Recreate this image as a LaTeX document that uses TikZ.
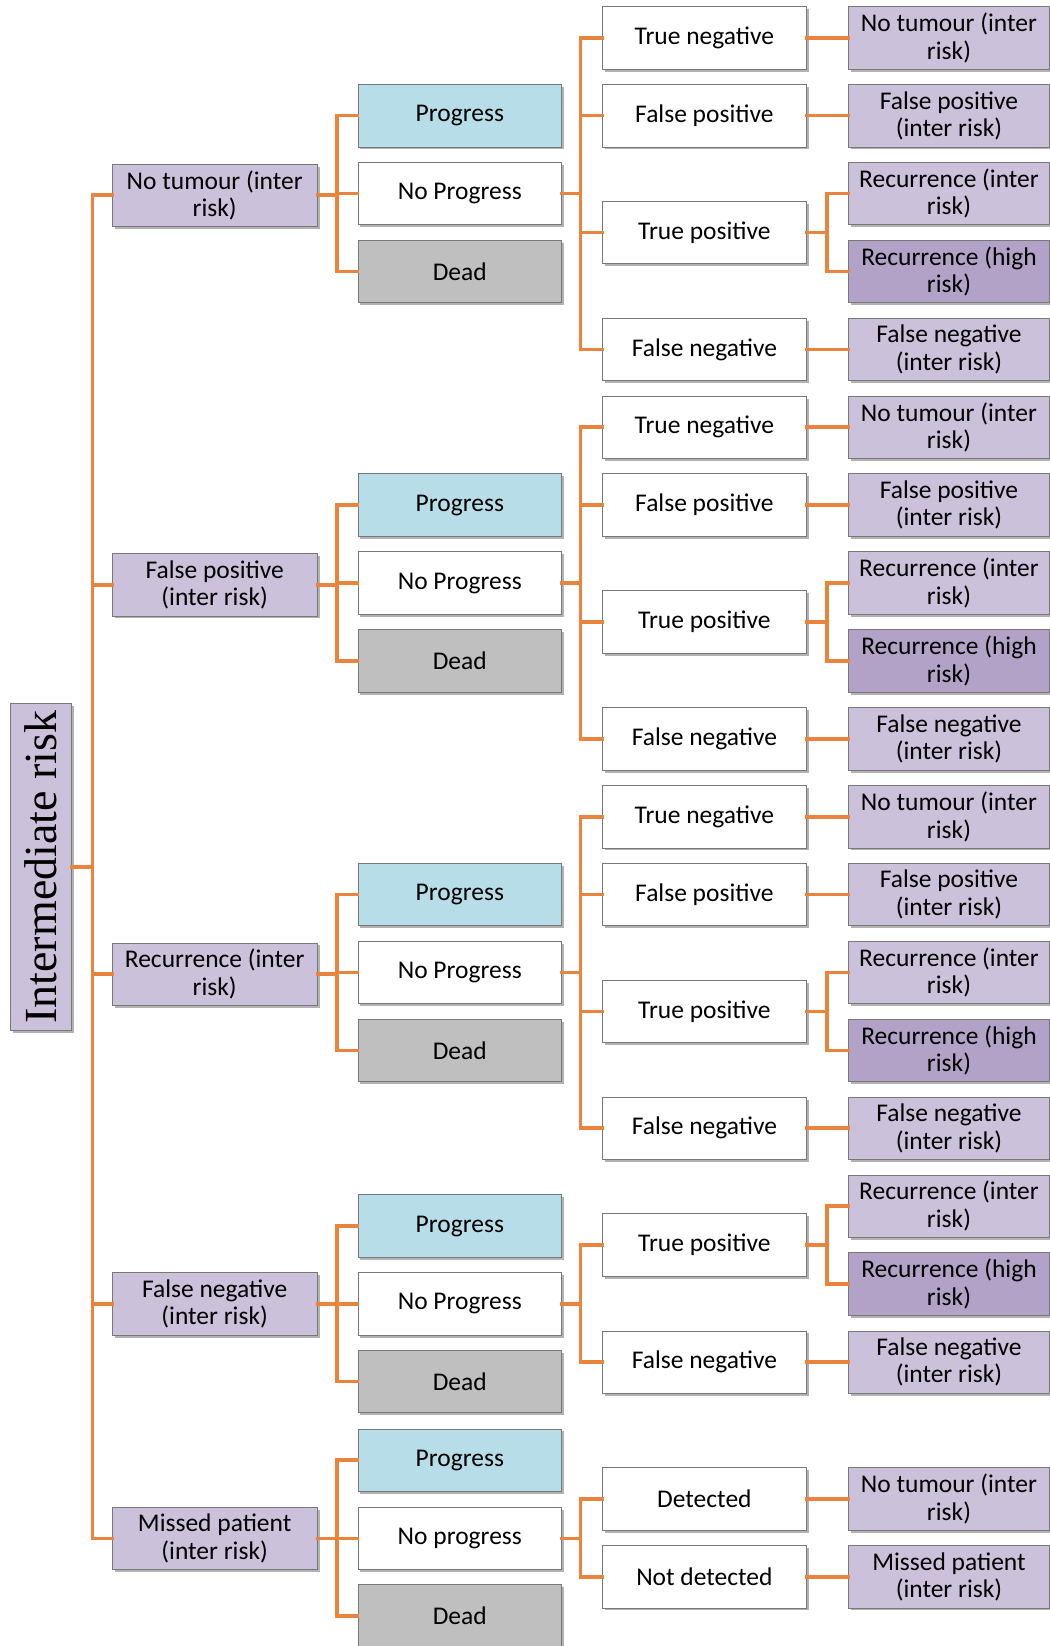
\documentclass[tikz,border=0pt]{standalone}
\usepackage{fontspec}
\usepackage{graphicx}
\setmainfont{Liberation Serif}
\newfontfamily\boxfont{Carlito}
\usetikzlibrary{shadows}

\definecolor{linkorange}{RGB}{234,132,60}
\definecolor{lilac}{RGB}{204,193,218}
\definecolor{lilacdark}{RGB}{179,162,199}
\definecolor{paleblue}{RGB}{183,221,232}
\definecolor{deadgrey}{RGB}{191,191,191}
\definecolor{edgegrey}{RGB}{120,120,120}

\tikzset{
  box/.style={draw=edgegrey, line width=0.8pt, align=center,
    inner sep=0pt, minimum height=62.5pt,
    font=\boxfont\fontsize{25.5}{27.5}\selectfont,
    drop shadow={shadow xshift=2.5pt, shadow yshift=-2.5pt, fill=black, opacity=0.3}},
  lvone/.style={box, fill=lilac, minimum width=204.8pt},
  lvtwo/.style={box, minimum width=203.7pt},
  prog/.style={lvtwo, fill=paleblue},
  nprog/.style={lvtwo, fill=white},
  dead/.style={lvtwo, fill=deadgrey},
  test/.style={box, fill=white, minimum width=203.7pt},
  outc/.style={box, fill=lilac, minimum width=201.6pt},
  outchigh/.style={box, fill=lilacdark, minimum width=201.6pt},
  conn/.style={draw=linkorange, line width=3.6pt, line cap=rect},
}

% One full branch: L1 state -> progress outcomes -> test result -> next state
\newcommand{\fullbranch}[3]{%
  \begin{scope}[shift={(0,#2)}]
    \node[lvone] (#1) at (204.5,186) {#3};
    \node[prog]  (#1p) at (438,110.2) {Progress};
    \node[nprog] (#1n) at (438,184.4) {No Progress};
    \node[dead]  (#1d) at (438,258.6) {Dead};
    \node[test] (#1tn) at (671,36) {True negative};
    \node[test] (#1fp) at (671,110.2) {False positive};
    \node[test] (#1tp) at (671,221.5) {True positive};
    \node[test] (#1fn) at (671,332.8) {False negative};
    \node[outc] (#1o1) at (904,36) {No tumour (inter\\risk)};
    \node[outc] (#1o2) at (904,110.2) {False positive\\(inter risk)};
    \node[outc] (#1o3) at (904,184.4) {Recurrence (inter\\risk)};
    \node[outchigh] (#1o4) at (904,258.6) {Recurrence (high\\risk)};
    \node[outc] (#1o5) at (904,332.8) {False negative\\(inter risk)};
  \end{scope}
  \foreach \c in {p,n,d} \draw[conn] (#1.east) -- (#1.east -| b1) |- (#1\c.west);
  \foreach \c in {tn,fp,tp,fn} \draw[conn] (#1n.east) -- (#1n.east -| b2) |- (#1\c.west);
  \draw[conn] (#1tn.east) -- (#1o1.west);
  \draw[conn] (#1fp.east) -- (#1o2.west);
  \draw[conn] (#1tp.east) -- (#1tp.east -| b3) |- (#1o3.west);
  \draw[conn] (#1tp.east -| b3) |- (#1o4.west);
  \draw[conn] (#1fn.east) -- (#1o5.west);
}

\begin{document}
\begin{tikzpicture}[x=1.05pt, y=-1.05pt]
  \useasboundingbox (0,0) rectangle (1000,1568);

  % bracket columns
  \coordinate (b0) at (88,0);
  \coordinate (b1) at (321,0);
  \coordinate (b2) at (553,0);
  \coordinate (b3) at (788,0);

  % root state
  \node[draw=edgegrey, line width=0.8pt, fill=lilac, inner sep=0pt,
        minimum width=61pt, minimum height=327.6pt,
        drop shadow={shadow xshift=2.5pt, shadow yshift=-2.5pt, fill=black, opacity=0.3},
        font=\fontsize{46}{50}\selectfont]
        (root) at (39,826) {\rotatebox{90}{Intermediate risk}};

  \fullbranch{A}{0}{No tumour (inter\\risk)}
  \fullbranch{B}{371}{False positive\\(inter risk)}
  \fullbranch{C}{742}{Recurrence (inter\\risk)}

  % false negative branch
  \node[lvone] (D) at (204.5,1242) {False negative\\(inter risk)};
  \node[prog]  (Dp) at (438,1168) {Progress};
  \node[nprog] (Dn) at (438,1242) {No Progress};
  \node[dead]  (Dd) at (438,1316) {Dead};
  \node[test] (Dtp) at (671,1186) {True positive};
  \node[test] (Dfn) at (671,1297.6) {False negative};
  \node[outc] (Do3) at (904,1149) {Recurrence (inter\\risk)};
  \node[outchigh] (Do4) at (904,1223.2) {Recurrence (high\\risk)};
  \node[outc] (Do5) at (904,1297.6) {False negative\\(inter risk)};
  \foreach \c in {p,n,d} \draw[conn] (D.east) -- (D.east -| b1) |- (D\c.west);
  \foreach \c in {tp,fn} \draw[conn] (Dn.east) -- (Dn.east -| b2) |- (D\c.west);
  \draw[conn] (Dtp.east) -- (Dtp.east -| b3) |- (Do3.west);
  \draw[conn] (Dtp.east -| b3) |- (Do4.west);
  \draw[conn] (Dfn.east) -- (Do5.west);

  % missed patient branch
  \node[lvone] (E) at (204.5,1465.5) {Missed patient\\(inter risk)};
  \node[prog]  (Ep) at (438,1391) {Progress};
  \node[nprog] (En) at (438,1465.5) {No progress};
  \node[dead]  (Ed) at (438,1539.5) {Dead};
  \node[test] (Edt) at (671,1428) {Detected};
  \node[test] (End) at (671,1502) {Not detected};
  \node[outc] (Eo1) at (904,1428) {No tumour (inter\\risk)};
  \node[outc] (Eo2) at (904,1502) {Missed patient\\(inter risk)};
  \foreach \c in {p,n,d} \draw[conn] (E.east) -- (E.east -| b1) |- (E\c.west);
  \foreach \c in {dt,nd} \draw[conn] (En.east) -- (En.east -| b2) |- (E\c.west);
  \draw[conn] (Edt.east) -- (Eo1.west);
  \draw[conn] (End.east) -- (Eo2.west);

  % trunk from the root to every first-level state
  \draw[conn] (root.east) -- (root.east -| b0);
  \foreach \c in {A,B,C,D,E} \draw[conn] (root.east -| b0) |- (\c.west);
\end{tikzpicture}
\end{document}
